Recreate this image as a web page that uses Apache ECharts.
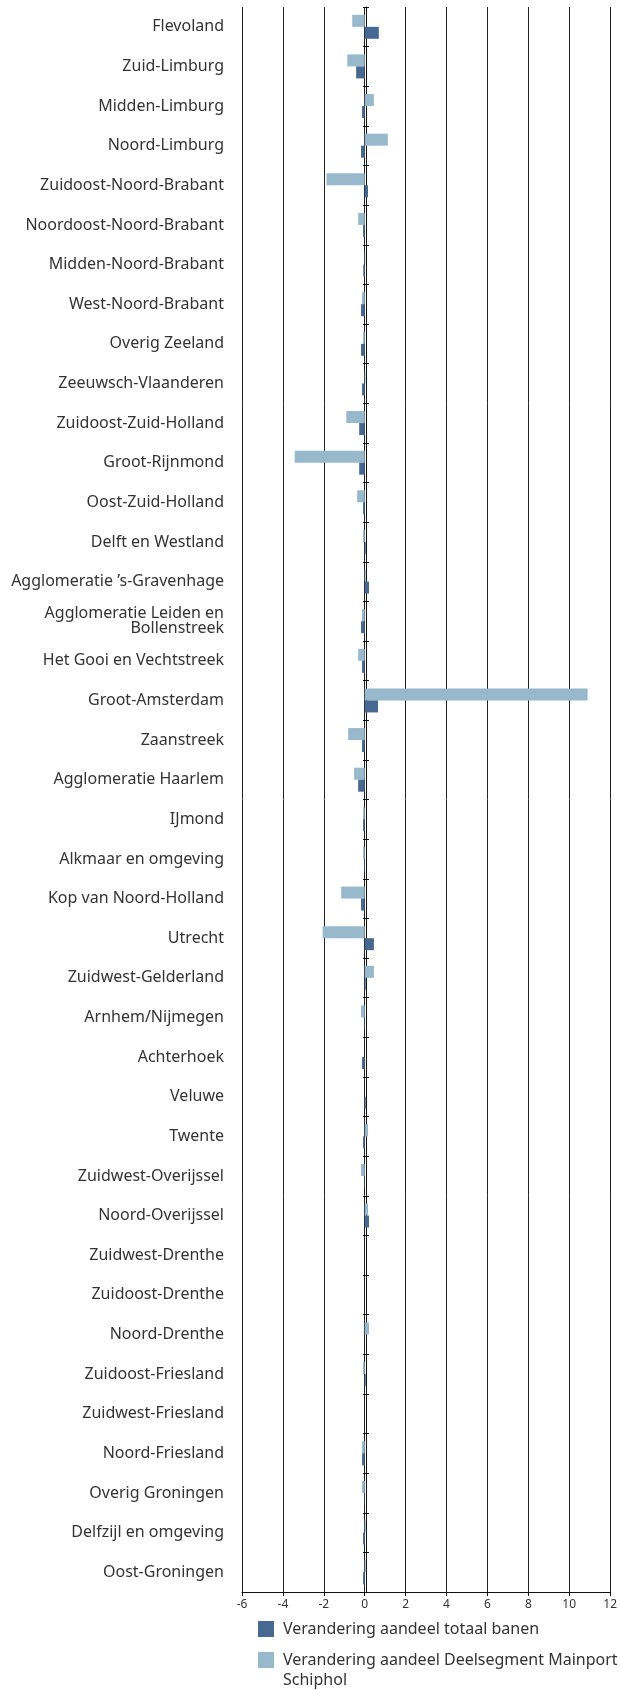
<!DOCTYPE html>
<html>
<head>
<meta charset="utf-8">
<script src="https://cdn.jsdelivr.net/npm/echarts@6/dist/echarts.min.js"></script>
<style>
  html, body { margin: 0; padding: 0; background: #fff; }
  #chart { width: 620px; height: 1690px; }
</style>
</head>
<body>
<div id="chart"></div>
<script>
// regio's, van boven naar beneden
const regions = [
  'Flevoland', 'Zuid-Limburg', 'Midden-Limburg', 'Noord-Limburg',
  'Zuidoost-Noord-Brabant', 'Noordoost-Noord-Brabant', 'Midden-Noord-Brabant',
  'West-Noord-Brabant', 'Overig Zeeland', 'Zeeuwsch-Vlaanderen',
  'Zuidoost-Zuid-Holland', 'Groot-Rijnmond', 'Oost-Zuid-Holland',
  'Delft en Westland', 'Agglomeratie \u2019s-Gravenhage',
  'Agglomeratie Leiden en\nBollenstreek', 'Het Gooi en Vechtstreek',
  'Groot-Amsterdam', 'Zaanstreek', 'Agglomeratie Haarlem', 'IJmond',
  'Alkmaar en omgeving', 'Kop van Noord-Holland', 'Utrecht',
  'Zuidwest-Gelderland', 'Arnhem/Nijmegen', 'Achterhoek', 'Veluwe', 'Twente',
  'Zuidwest-Overijssel', 'Noord-Overijssel', 'Zuidwest-Drenthe',
  'Zuidoost-Drenthe', 'Noord-Drenthe', 'Zuidoost-Friesland',
  'Zuidwest-Friesland', 'Noord-Friesland', 'Overig Groningen',
  'Delfzijl en omgeving', 'Oost-Groningen'
];

// verandering aandeel totaal banen
const totaalBanen = [
  0.69, -0.42, -0.13, -0.18, 0.16, -0.08, -0.07,
  -0.18, -0.18, -0.13, -0.27, -0.27, -0.08, 0.05,
  0.21, -0.18, -0.13, 0.65, -0.13, -0.32, -0.08,
  -0.03, -0.18, 0.45, 0.05, -0.02, -0.13, 0.05,
  -0.08, -0.02, 0.21, 0, 0, 0, 0.05,
  0, -0.13, -0.02, -0.08, -0.08
];

// verandering aandeel deelsegment Mainport Schiphol
const mainportSchiphol = [
  -0.61, -0.85, 0.45, 1.13, -1.87, -0.32, 0.03,
  -0.13, -0.08, 0.04, -0.9, -3.42, -0.37, -0.08,
  0.05, -0.13, -0.32, 10.9, -0.81, -0.52, -0.08,
  -0.08, -1.15, -2.06, 0.45, -0.18, 0, 0,
  0.16, -0.18, 0.16, 0, 0, 0.21, -0.08,
  0, -0.13, -0.13, 0.05, 0.05
];

const xTicks = { min: -6, max: 12, interval: 2 };

const nameTotaal = 'Verandering aandeel totaal banen';
const nameSchiphol = 'Verandering aandeel Deelsegment Mainport Schiphol';

const textFont = 'Noto Sans';
const gridLeft = 242;
const gridRight = 6;
const chartWidth = 620;
// afstand van de linkerrand van het plot tot de nullijn
const zeroOffset = (0 - xTicks.min) / (xTicks.max - xTicks.min) * (chartWidth - gridLeft - gridRight);

const chart = echarts.init(document.getElementById('chart'));

// vierkantje bovenaan, zodat het naast de eerste tekstregel staat
const topSquare = 'path://M0,0L16,0L16,16L0,16Z M0,36L0.01,36L0,36Z';

const legendText = { fontFamily: textFont, fontSize: 16, color: '#333', lineHeight: 20, padding: [0, 0, 0, 4] };

const option = {
  animation: false,
  grid: { left: gridLeft, right: gridRight, top: 7, bottom: 98, containLabel: false },
  legend: [
    {
      orient: 'vertical',
      left: 258,
      top: 1619,
      padding: 0,
      itemWidth: 16,
      itemHeight: 16,
      icon: 'rect',
      data: [nameTotaal],
      textStyle: legendText
    },
    {
      orient: 'vertical',
      left: 258,
      top: 1650,
      padding: 0,
      itemWidth: 16,
      itemHeight: 36,
      icon: topSquare,
      data: [nameSchiphol],
      formatter: name => name.replace(' Schiphol', '\nSchiphol'),
      textStyle: legendText
    }
  ],
  xAxis: {
    type: 'value',
    min: xTicks.min,
    max: xTicks.max,
    interval: xTicks.interval,
    axisLine: { show: true, onZero: false, lineStyle: { color: '#111', width: 1 } },
    axisTick: { show: true, length: 4, lineStyle: { color: '#111' } },
    axisLabel: { fontFamily: textFont, fontSize: 12, color: '#333', margin: 7 },
    splitLine: { show: true, lineStyle: { color: '#222', width: 1 } }
  },
  yAxis: [
    {
      // labels aan de linkerkant
      type: 'category',
      position: 'left',
      inverse: true,
      data: regions,
      axisLine: { show: false, onZero: false },
      axisTick: { show: false },
      axisLabel: {
        fontFamily: textFont, fontSize: 16, color: '#333', margin: 18,
        interval: 0, lineHeight: 15
      }
    },
    {
      // nullijn met streepjes naar links
      type: 'category',
      position: 'left',
      offset: -zeroOffset,
      inverse: true,
      data: regions,
      axisLine: { show: true, onZero: false, lineStyle: { color: '#111', width: 1 } },
      axisTick: { show: true, length: 3, lineStyle: { color: '#111' } },
      axisLabel: { show: false }
    },
    {
      // streepjes naar rechts
      type: 'category',
      position: 'left',
      offset: -zeroOffset,
      inverse: true,
      data: regions,
      axisLine: { show: false, onZero: false },
      axisTick: { show: true, inside: true, length: 3, lineStyle: { color: '#111' } },
      axisLabel: { show: false }
    }
  ],
  series: [
    {
      name: nameSchiphol,
      type: 'bar',
      data: mainportSchiphol,
      barWidth: 12,
      barGap: '0%',
      itemStyle: { color: '#98b8cb' }
    },
    {
      name: nameTotaal,
      type: 'bar',
      data: totaalBanen,
      barWidth: 12,
      barGap: '0%',
      itemStyle: { color: '#476890' }
    }
  ]
};

chart.setOption(option);
</script>
</body>
</html>
